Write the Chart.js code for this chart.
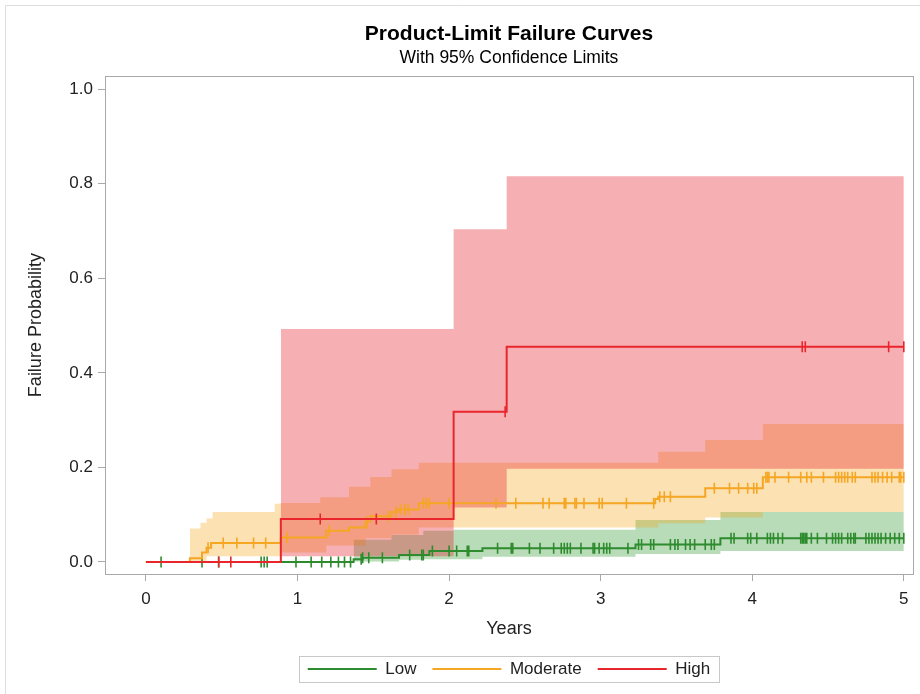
<!DOCTYPE html>
<html>
<head>
<meta charset="utf-8">
<title>Product-Limit Failure Curves</title>
<script src="https://cdn.jsdelivr.net/npm/chart.js@4.4.1/dist/chart.umd.min.js"></script>
<style>
  html, body { margin: 0; padding: 0; background: #ffffff; }
  #wrap { width: 920px; height: 694px; position: relative; }
</style>
</head>
<body>
<div id="wrap"><canvas id="kmChart" width="920" height="694"></canvas></div>
<script>
// Product-limit (Kaplan-Meier) failure curves with 95% confidence bands, three risk groups

const groupNames = ['Low', 'Moderate', 'High'];

// Low risk group: step curve, confidence band, censor times
const lowX = [0, 1.37, 1.43, 1.67, 1.87, 2.22, 3.23, 3.79, 5.0];
const lowY = [0, 0.006, 0.009, 0.015, 0.023, 0.029, 0.037, 0.05, 0.05];
const lowBandX = [1.37, 1.62, 1.67, 1.83, 2.03, 2.22, 3.23, 3.79, 5.0];
const lowUpper = [0.047, 0.057, 0.057, 0.066, 0.068, 0.068, 0.089, 0.106, 0.106];
const lowLower = [0.001, 0.001, 0.005, 0.006, 0.006, 0.011, 0.017, 0.023, 0.023];
const lowCensor = [0.1, 0.37, 0.48, 0.76, 0.78, 0.8, 0.99, 1.09, 1.16, 1.22, 1.27, 1.31, 1.35,
  1.42, 1.43, 1.47, 1.56, 1.74, 1.82, 1.83, 1.89, 2.0, 2.05, 2.12, 2.13, 2.32, 2.41, 2.42,
  2.53, 2.6, 2.69, 2.74, 2.76, 2.78, 2.8, 2.87, 2.95, 2.96, 2.99, 3.02, 3.04, 3.06, 3.18,
  3.25, 3.27, 3.33, 3.35, 3.46, 3.49, 3.51, 3.56, 3.59, 3.62, 3.69, 3.73, 3.75, 3.86, 3.88,
  3.97, 3.99, 4.03, 4.1, 4.12, 4.14, 4.17, 4.2, 4.32, 4.33, 4.34, 4.35, 4.36, 4.39, 4.43,
  4.49, 4.53, 4.55, 4.57, 4.59, 4.63, 4.65, 4.67, 4.68, 4.75, 4.77, 4.79, 4.81, 4.83, 4.85,
  4.88, 4.91, 4.94, 4.97, 5.0];

// Moderate risk group
const modX = [0, 0.29, 0.37, 0.40, 0.43, 0.89, 1.19, 1.34, 1.45, 1.48, 1.62, 1.66, 1.80, 3.36, 3.38, 3.69, 4.07, 5.0];
const modY = [0, 0.008, 0.02, 0.03, 0.04, 0.052, 0.066, 0.073, 0.085, 0.097, 0.106, 0.111, 0.124, 0.133, 0.138, 0.156, 0.179, 0.179];
const modBandX = [0.29, 0.36, 0.40, 0.44, 0.85, 0.89, 1.15, 1.19, 1.34, 1.45, 1.48, 1.62, 1.80, 3.38, 3.69, 4.07, 5.0];
const modUpper = [0.071, 0.083, 0.092, 0.106, 0.123, 0.125, 0.137, 0.137, 0.159, 0.159, 0.18, 0.196, 0.21, 0.233, 0.258, 0.292, 0.292];
const modLower = [0, 0, 0.012, 0.012, 0.012, 0.02, 0.02, 0.035, 0.035, 0.05, 0.05, 0.058, 0.073, 0.082, 0.094, 0.106, 0.106];
const modCensor = [0.41, 0.51, 0.6, 0.71, 0.79, 0.93, 1.21, 1.46, 1.6, 1.65, 1.68, 1.71, 1.73,
  1.83, 1.85, 1.87, 2.0, 2.31, 2.44, 2.62, 2.66, 2.76, 2.77, 2.83, 2.84, 2.89, 2.99, 3.01,
  3.17, 3.35, 3.39, 3.42, 3.46, 3.75, 3.85, 3.91, 3.97, 4.01, 4.03, 4.09, 4.1, 4.11, 4.15,
  4.24, 4.32, 4.36, 4.39, 4.47, 4.55, 4.57, 4.59, 4.61, 4.63, 4.66, 4.68, 4.79, 4.81, 4.83,
  4.86, 4.89, 4.92, 4.97, 4.98, 5.0];

// High risk group
const highX = [0, 0.89, 2.03, 2.38, 5.0];
const highY = [0, 0.091, 0.318, 0.455, 0.455];
const highBandX = [0.89, 2.03, 2.38, 5.0];
const highUpper = [0.493, 0.704, 0.816, 0.816];
const highLower = [0.012, 0.115, 0.197, 0.197];
const highCensor = [0.48, 0.56, 1.15, 1.52, 2.37, 4.33, 4.35, 4.9, 5.0];

// Axis ticks
const xTicks = [0, 1, 2, 3, 4, 5];
const yTicks = [0, 0.2, 0.4, 0.6, 0.8, 1.0];

const FONT = "'Liberation Sans', Arial, Helvetica, sans-serif";
const AXIS_GRAY = '#a9a9a9';

const lineColors = { Low: '#2e8b2e', Moderate: '#f5a623', High: '#e8262b' };
const bandColors = {
  Low: 'rgba(40, 150, 40, 0.33)',
  Moderate: 'rgba(245, 165, 20, 0.33)',
  High: 'rgba(230, 30, 40, 0.35)'
};

function toPoints(xs, ys) {
  return xs.map((x, i) => ({ x: x, y: ys[i] }));
}

// value of a step curve at time t (curve value holds until the next time)
function stepAt(xs, ys, t) {
  let v = ys[0];
  for (let i = 0; i < xs.length; i++) {
    if (xs[i] <= t) v = ys[i];
  }
  return v;
}

const groups = [
  { name: 'Low', x: lowX, y: lowY, bx: lowBandX, up: lowUpper, lo: lowLower, cens: lowCensor, order: 30 },
  { name: 'Moderate', x: modX, y: modY, bx: modBandX, up: modUpper, lo: modLower, cens: modCensor, order: 20 },
  { name: 'High', x: highX, y: highY, bx: highBandX, up: highUpper, lo: highLower, cens: highCensor, order: 10 }
];

const datasets = [];
groups.forEach(g => {
  // confidence band: upper filled down to lower
  datasets.push({
    label: g.name + ' upper',
    data: toPoints(g.bx, g.up),
    stepped: true,
    borderWidth: 0,
    borderColor: 'rgba(0,0,0,0)',
    pointRadius: 0,
    backgroundColor: bandColors[g.name],
    fill: '+1',
    order: g.order + 100
  });
  datasets.push({
    label: g.name + ' lower',
    data: toPoints(g.bx, g.lo),
    stepped: true,
    borderWidth: 0,
    borderColor: 'rgba(0,0,0,0)',
    pointRadius: 0,
    fill: false,
    order: g.order + 101
  });
  // estimate curve
  datasets.push({
    label: g.name,
    data: toPoints(g.x, g.y),
    stepped: true,
    borderColor: lineColors[g.name],
    backgroundColor: lineColors[g.name],
    borderWidth: 2,
    pointRadius: 0,
    fill: false,
    order: g.order + 1
  });
  // censored observations as vertical ticks
  datasets.push({
    label: g.name + ' censored',
    data: g.cens.map(t => ({ x: t, y: stepAt(g.x, g.y, t) })),
    showLine: false,
    pointStyle: 'line',
    rotation: 90,
    pointRadius: 5.5,
    pointBorderWidth: 1.6,
    pointBorderColor: lineColors[g.name],
    borderColor: lineColors[g.name],
    order: g.order
  });
});

// outer frame lines, plot frame and legend border
const framePlugin = {
  id: 'framePlugin',
  beforeDraw(chart) {
    const ctx = chart.ctx;
    ctx.save();
    ctx.strokeStyle = '#dedede';
    ctx.lineWidth = 1;
    ctx.beginPath();
    ctx.moveTo(5.5, chart.height);
    ctx.lineTo(5.5, 5.5);
    ctx.lineTo(chart.width, 5.5);
    ctx.stroke();
    ctx.restore();
  },
  afterDraw(chart) {
    const ctx = chart.ctx;
    const a = chart.chartArea;
    ctx.save();
    ctx.strokeStyle = AXIS_GRAY;
    ctx.lineWidth = 1;
    ctx.strokeRect(Math.round(a.left) + 0.5, Math.round(a.top) + 0.5,
      Math.round(a.right - a.left), Math.round(a.bottom - a.top));
    // legend box
    const boxes = chart.legend.legendHitBoxes;
    if (boxes && boxes.length) {
      const first = boxes[0];
      const last = boxes[boxes.length - 1];
      const midY = first.top + first.height / 2;
      ctx.strokeStyle = '#c8c8c8';
      ctx.strokeRect(Math.round(first.left - 9) + 0.5, Math.round(midY - 13) + 0.5,
        Math.round(last.left + last.width + 9 - (first.left - 9)), 26);
    }
    ctx.restore();
  }
};

const ctx = document.getElementById('kmChart').getContext('2d');
const chart = new Chart(ctx, {
  type: 'line',
  data: { datasets: datasets },
  plugins: [framePlugin],
  options: {
    responsive: false,
    animation: false,
    events: [],
    layout: { padding: { left: 0, right: 6, top: 0, bottom: 6.5 } },
    plugins: {
      tooltip: { enabled: false },
      title: {
        display: true,
        text: 'Product-Limit Failure Curves',
        fullSize: false,
        color: '#000000',
        font: { family: FONT, size: 21, weight: 'bold', lineHeight: 1.2 },
        padding: { top: 22, bottom: 0 }
      },
      subtitle: {
        display: true,
        text: 'With 95% Confidence Limits',
        fullSize: false,
        color: '#000000',
        font: { family: FONT, size: 17.5, lineHeight: 1.2 },
        padding: { top: 0, bottom: 8 }
      },
      legend: {
        position: 'bottom',
        fullSize: false,
        labels: {
          color: '#222222',
          font: { family: FONT, size: 17 },
          usePointStyle: true,
          pointStyle: 'line',
          pointStyleWidth: 69,
          padding: 16,
          filter: item => groupNames.includes(item.text),
          sort: (a, b) => groupNames.indexOf(a.text) - groupNames.indexOf(b.text)
        }
      }
    },
    scales: {
      x: {
        type: 'linear',
        min: -0.27,
        max: 5.06,
        afterBuildTicks: axis => { axis.ticks = xTicks.map(v => ({ value: v })); },
        afterFit: axis => { axis.height = 70.5; },
        ticks: {
          color: '#222222',
          font: { family: FONT, size: 17 },
          padding: 8,
          maxRotation: 0,
          callback: v => String(v)
        },
        grid: { drawOnChartArea: false, drawTicks: true, tickLength: 7, color: AXIS_GRAY },
        border: { display: false },
        title: {
          display: true,
          text: 'Years',
          color: '#222222',
          font: { family: FONT, size: 18, lineHeight: 1.2 },
          padding: { top: 0, bottom: 5 }
        }
      },
      y: {
        type: 'linear',
        min: -0.0254,
        max: 1.0275,
        afterBuildTicks: axis => { axis.ticks = yTicks.map(v => ({ value: v })); },
        afterFit: axis => { axis.width = 105; },
        ticks: {
          color: '#222222',
          font: { family: FONT, size: 17 },
          padding: 5,
          callback: v => Number(v).toFixed(1)
        },
        grid: { drawOnChartArea: false, drawTicks: true, tickLength: 7, color: AXIS_GRAY },
        border: { display: false },
        title: {
          display: true,
          text: 'Failure Probability',
          color: '#222222',
          font: { family: FONT, size: 18, lineHeight: 1.2 },
          padding: { top: 25.2, bottom: 0 }
        }
      }
    }
  }
});
</script>
</body>
</html>
